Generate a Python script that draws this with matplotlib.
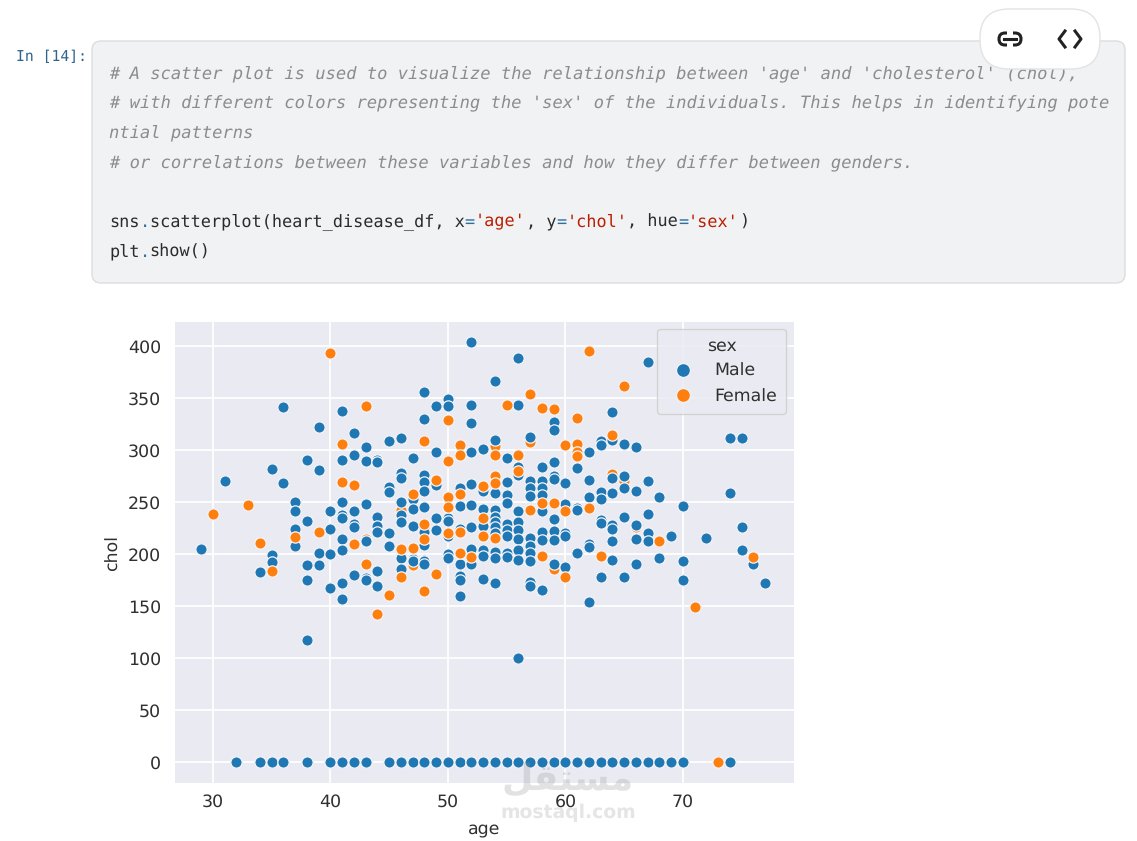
import matplotlib
matplotlib.use("Agg")
import matplotlib.pyplot as plt
from matplotlib.patches import FancyBboxPatch
from matplotlib.lines import Line2D

plt.rcParams["text.hinting"] = "no_hinting"

# values, one list of chol values per age
male_age = [29, 31, 32, 34, 35, 36, 37, 38, 39, 40, 41, 42, 43, 44, 45, 46, 47, 48, 49, 50, 51, 52, 53,
            54, 55, 56, 57, 58, 59, 60, 61, 62, 63, 64, 65, 66, 67, 68, 69, 70, 72, 74, 75, 76, 77]
male_chol = [[205], [270], [0], [0, 183], [0, 282, 199, 192], [0, 341, 268], [250, 241, 224, 208],
             [0, 290, 232, 189, 175, 117], [322, 281, 201, 189], [0, 241, 224, 200, 167],
             [0, 337, 290, 250, 237, 235, 214, 204, 172, 157], [0, 316, 295, 241, 229, 226, 180],
             [0, 303, 289, 248, 212, 177, 175], [290, 288, 236, 227, 221, 184, 169],
             [0, 309, 264, 260, 220, 208], [0, 311, 278, 273, 250, 237, 231, 198, 196, 186],
             [0, 292, 253, 243, 227, 195, 193], [0, 356, 330, 276, 269, 261, 245, 221, 209, 194, 193, 190],
             [0, 342, 298, 266, 235, 223], [0, 349, 342, 235, 232, 217, 200, 196],
             [0, 263, 246, 224, 190, 179, 175, 160], [0, 404, 343, 326, 298, 267, 247, 226, 205, 190],
             [0, 301, 261, 243, 227, 204, 198, 176], [0, 366, 310, 259, 242, 236, 231, 226, 220, 202, 196, 172],
             [0, 292, 269, 257, 249, 229, 223, 217, 201, 197], [0, 388, 343, 284, 276, 241, 231, 223, 214, 204, 194, 100],
             [0, 312, 270, 263, 256, 215, 208, 201, 193, 173, 169], [0, 284, 270, 263, 257, 241, 221, 213, 165],
             [0, 327, 319, 288, 275, 272, 234, 222, 213, 190], [0, 268, 248, 220, 217, 187],
             [0, 283, 244, 242, 201], [0, 298, 271, 255, 210, 207, 154], [0, 309, 305, 260, 253, 233, 230, 178],
             [0, 336, 310, 273, 259, 228, 224, 212, 194], [0, 306, 275, 263, 236, 178],
             [0, 303, 261, 228, 214, 190], [0, 385, 270, 238, 220, 212], [0, 255, 196], [0, 217],
             [0, 246, 193, 175], [215], [0, 311, 259], [311, 226, 204], [190], [172]]

female_age = [30, 33, 34, 35, 37, 39, 40, 41, 42, 43, 44, 45, 46, 47, 48, 49, 50, 51, 52, 53, 54, 55, 56,
              57, 58, 59, 60, 61, 62, 63, 64, 65, 68, 71, 73, 76]
female_chol = [[238], [247], [211], [184], [216], [221], [393], [306, 269], [266, 210], [342, 190], [142],
               [161], [205, 178], [258, 206], [309, 229, 214, 164], [271, 181], [329, 289, 255, 245, 220],
               [305, 295, 258, 221, 201], [197], [265, 235, 217], [295, 275, 268, 215], [343], [295, 280],
               [354, 242], [340, 249, 198], [339, 249], [305, 241, 178], [331, 306, 298, 294], [395, 244],
               [198], [314], [361], [212], [149], [0], [197]]

# these ones sit partly behind the blue points
hidden_age = [43, 46, 47, 48, 54, 57, 59, 64, 65, 66]
hidden_chol = [[214], [242], [189], [225], [304], [308], [186], [277], [270], [226]]

code_comments = ["# A scatter plot is used to visualize the relationship between 'age' and 'cholesterol' (chol),",
                 "# with different colors representing the 'sex' of the individuals. This helps in identifying pote",
                 "ntial patterns",
                 "# or correlations between these variables and how they differ between genders."]
comment_y = [74, 103, 133, 163]
code_line = [("sns", "k"), (".", "o"), ("scatterplot(heart_disease_df, x", "k"), ("=", "o"), ("'age'", "s"),
             (", y", "k"), ("=", "o"), ("'chol'", "s"), (", hue", "k"), ("=", "o"), ("'sex'", "s"), (")", "k")]
code_colors = {"k": "#2b2b2b", "o": "#2f6f9f", "s": "#ba2000"}

blue = "#1f77b4"
orange = "#ff7f0e"
mono = "DejaVu Sans Mono"
comment_size = 12.32
code_size = 12.15
char_w = 10.16


def flatten(ages, chols):
    xs, ys = [], []
    for a, vals in zip(ages, chols):
        for v in vals:
            xs.append(a)
            ys.append(v)
    return xs, ys


fig = plt.figure(figsize=(11.37, 8.41), dpi=100)

# page layer in pixel coordinates
bg = fig.add_axes([0, 0, 1, 1], zorder=0)
bg.set_xlim(0, 1137)
bg.set_ylim(841, 0)
bg.axis("off")

bg.add_patch(FancyBboxPatch((92, 41), 1033, 242, boxstyle="round,pad=0,rounding_size=9",
                            fc="#f1f2f4", ec="#dcdde0", lw=1))
bg.text(16, 57, "In [14]:", family=mono, fontsize=10.6, color="#30628a", va="center")

for line, y in zip(code_comments, comment_y):
    bg.text(109, y, line, family=mono, style="italic", fontsize=comment_size, color="#8c8c8c", va="center")

pos = 109
for part, kind in code_line:
    bg.text(pos, 222, part, family=mono, fontsize=code_size, color=code_colors[kind], va="center")
    pos += len(part) * char_w
bg.text(109, 252, "plt", family=mono, fontsize=code_size, color=code_colors["k"], va="center")
bg.text(109 + 3 * char_w, 252, ".", family=mono, fontsize=code_size, color=code_colors["o"], va="center")
bg.text(109 + 4 * char_w, 252, "show()", family=mono, fontsize=code_size, color=code_colors["k"], va="center")

# toolbar pill with the two icons
bg.add_patch(FancyBboxPatch((980, 9), 120, 60, boxstyle="round,pad=0,rounding_size=29",
                            fc="white", ec="#e2e3e6", lw=1, zorder=5))
bg.add_patch(FancyBboxPatch((999, 33), 22, 12, boxstyle="round,pad=0,rounding_size=6",
                            fc="none", ec="#222222", lw=2.2, zorder=6))
bg.add_patch(plt.Rectangle((1007, 30), 6, 18, fc="white", ec="none", zorder=6))
bg.add_line(Line2D([1004, 1016], [39, 39], color="#222222", lw=2.2, zorder=7))
bg.add_line(Line2D([1065, 1059, 1065], [31, 39, 47], color="#222222", lw=2.2, zorder=6))
bg.add_line(Line2D([1075, 1081, 1075], [31, 39, 47], color="#222222", lw=2.2, zorder=6))

# the chart itself
ax = fig.add_axes([175 / 1137, 1 - 783 / 841, 619 / 1137, 461 / 841], zorder=1)
ax.set_facecolor("#eaeaf2")
for s in ax.spines.values():
    s.set_visible(False)
ax.grid(True, color="white", lw=1.25)
ax.set_axisbelow(True)

marker = dict(s=66, edgecolors="#f4f4f8", linewidths=0.9)
hx, hy = flatten(hidden_age, hidden_chol)
ax.scatter(hx, hy, c=orange, **marker)
mx, my = flatten(male_age, male_chol)
ax.scatter(mx, my, c=blue, **marker)
fx, fy = flatten(female_age, female_chol)
ax.scatter(fx, fy, c=orange, **marker)

ax.set_xlim(26.77, 79.45)
ax.set_ylim(-20.2, 423)
ax.set_xticks([30, 40, 50, 60, 70])
ax.set_yticks([0, 50, 100, 150, 200, 250, 300, 350, 400])
ax.tick_params(axis="x", length=0, labelsize=12.5, labelcolor="#303030", pad=8)
ax.tick_params(axis="y", length=0, labelsize=12.5, labelcolor="#303030", pad=10)
ax.set_xlabel("age", fontsize=12.5, color="#303030", labelpad=8)
ax.set_ylabel("chol", fontsize=12.5, color="#303030", labelpad=5)

handles = [Line2D([], [], ls="", marker="o", ms=10, mfc=blue, mec="#f4f4f8", mew=0.9, label="Male"),
           Line2D([], [], ls="", marker="o", ms=10, mfc=orange, mec="#f4f4f8", mew=0.9, label="Female")]
leg = ax.legend(handles=handles, title="sex", loc="upper right", bbox_to_anchor=(0.987, 0.985),
                fontsize=12.5, title_fontsize=12.5, facecolor="#eaeaf2", edgecolor="#cccccc",
                framealpha=0.8, labelcolor="#303030", borderaxespad=0, labelspacing=0.52,
                borderpad=0.5)
leg.get_title().set_color("#303030")

# watermark over the chart
over = fig.add_axes([0, 0, 1, 1], zorder=2)
over.set_xlim(0, 1137)
over.set_ylim(841, 0)
over.axis("off")
over.patch.set_alpha(0)
over.text(568, 779, "\uFEDE\uFED8\uFE98\uFEB4\uFEE3", family="DejaVu Sans", weight="bold", fontsize=26,
          color="#9a9a9a", alpha=0.28, ha="center", va="center")
over.text(568, 813, "mostaql.com", family="DejaVu Sans", fontsize=13.5, weight="bold",
          color="#9a9a9a", alpha=0.25, ha="center", va="center")

fig.savefig("out.png", dpi=100)
